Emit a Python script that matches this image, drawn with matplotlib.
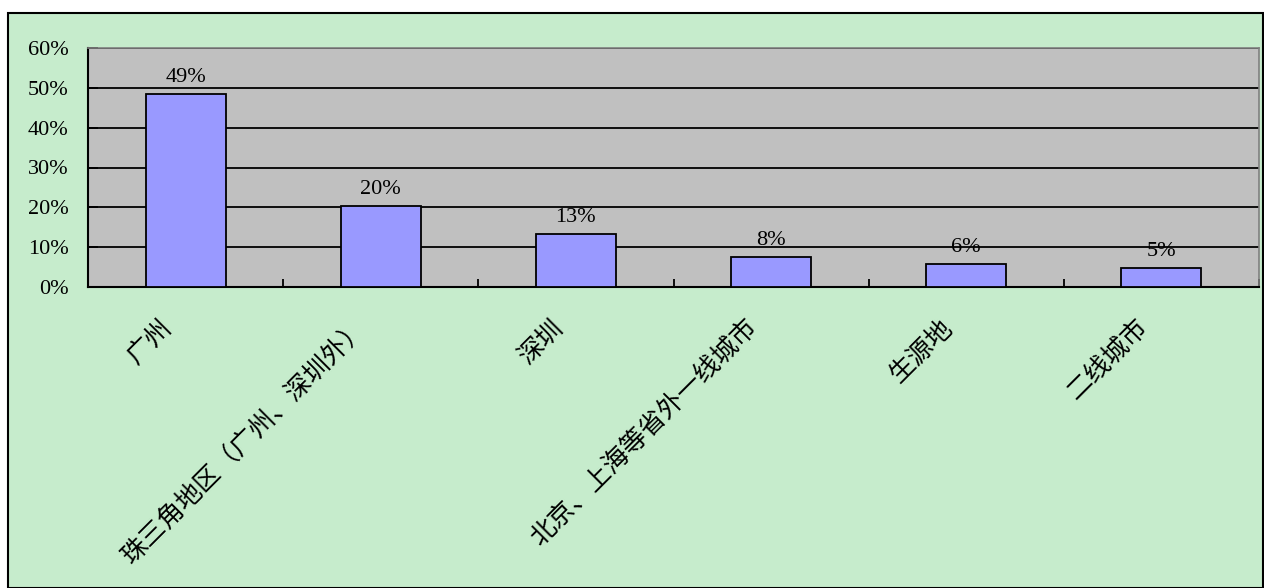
import matplotlib
matplotlib.use("Agg")
import matplotlib.pyplot as plt
import matplotlib.transforms as mtransforms
from matplotlib.patches import Rectangle

categories = ["广州", "珠三角地区（广州、深圳外）", "深圳", "北京、上海等省外一线城市", "生源地", "二线城市"]
values = [48.5, 20.3, 13.3, 7.5, 5.8, 4.8]
value_labels = ["49%", "20%", "13%", "8%", "6%", "5%"]
yticks = [0, 10, 20, 30, 40, 50, 60]
ytick_labels = ["0%", "10%", "20%", "30%", "40%", "50%", "60%"]

W, H = 1264, 588
fig = plt.figure(figsize=(W / 100, H / 100), dpi=100, facecolor="white")

# chart area background with border
fig.patches.append(Rectangle((8 / W, 0), (W - 9) / W, (H - 13) / H, transform=fig.transFigure,
                             facecolor="#C6ECCC", edgecolor="black", linewidth=1.5, zorder=-10))

ax = fig.add_axes([88 / W, 1 - 287 / H, (1259 - 88) / W, (287 - 48) / H])
ax.set_zorder(1)
ax.set_facecolor("#C0C0C0")

x = list(range(len(categories)))
ax.bar(x, values, width=0.41, color="#9999FF", edgecolor="black", linewidth=1.3, zorder=3)

ax.set_xlim(-0.5, len(categories) - 0.5)
ax.set_ylim(0, 60)
ax.set_yticks(yticks)
ax.set_yticklabels(ytick_labels, family=["Liberation Serif"], fontsize=16)
ax.yaxis.grid(True, color="black", linewidth=1.3, zorder=1)
ax.set_axisbelow(True)
ax.tick_params(axis="y", direction="in", length=7, width=1.3, pad=14, colors="black")

ax.set_xticks([i - 0.5 for i in range(len(categories) + 1)])
ax.set_xticklabels([])
ax.tick_params(axis="x", direction="in", length=6, width=1.3)

for s in ["left", "bottom"]:
    ax.spines[s].set_color("black")
    ax.spines[s].set_linewidth(1.5)
for s in ["top", "right"]:
    ax.spines[s].set_color("#808080")
    ax.spines[s].set_linewidth(1.2)

for i, (v, lab) in enumerate(zip(values, value_labels)):
    ax.annotate(lab, (i, v), xytext=(0, 5), textcoords="offset points", ha="center", va="bottom",
                family=["Liberation Serif"], fontsize=16, zorder=4)

blend = mtransforms.blended_transform_factory(ax.transData, ax.transAxes)
off = mtransforms.ScaledTranslation(-17 / 100, -37 / 100, fig.dpi_scale_trans)
for i, c in enumerate(categories):
    ax.text(i, 0, c, transform=blend + off, rotation=45, rotation_mode="anchor",
            ha="right", va="center", family=["Noto Sans CJK SC", "DejaVu Sans"], fontsize=18.5,
            fontweight="light", clip_on=False)

fig.savefig("out.png", dpi=100, facecolor="white")
